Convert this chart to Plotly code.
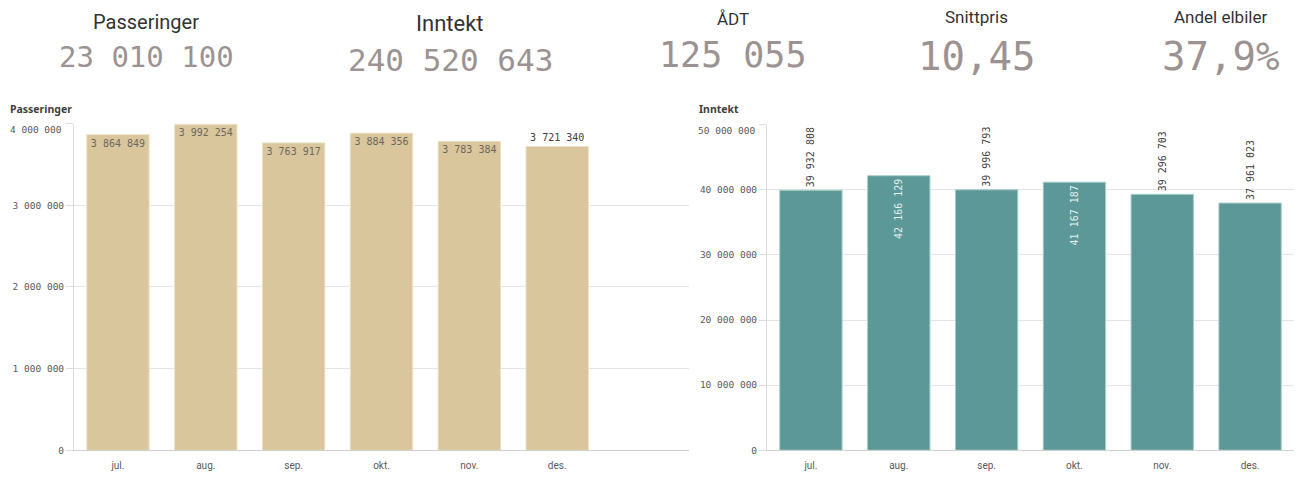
import plotly.graph_objects as go

# monthly data
months = ["jul.", "aug.", "sep.", "okt.", "nov.", "des."]
passeringer = [3864849, 3992254, 3763917, 3884356, 3783384, 3721340]
inntekt = [39932808, 42166129, 39996793, 41167187, 39296703, 37961023]

# label placement as in the original dashboard
pass_textpos = ["inside", "inside", "inside", "inside", "inside", "outside"]
innt_textpos = ["outside", "inside", "outside", "inside", "outside", "outside"]

# y axis ticks
pass_ticks = [0, 1000000, 2000000, 3000000, 4000000]
innt_ticks = [0, 10000000, 20000000, 30000000, 40000000, 50000000]

# KPI row
kpi_titles = ["Passeringer", "Inntekt", "ÅDT", "Snittpris", "Andel elbiler"]
kpi_values = [
    f"{sum(passeringer):,}".replace(",", " "),
    f"{sum(inntekt):,}".replace(",", " "),
    "125 055",
    "10,45",
    "37,9%",
]

def fmt(v):
    return f"{v:,}".replace(",", " ")

W, H = 1304, 477

def py(px):
    return 1 - px / H

def pxx(px):
    return px / W

TAN = "#d9c69c"
TEAL = "#5c9897"
MONO = "DejaVu Sans Mono"
SANS = "Roboto"

fig = go.Figure()

fig.add_trace(go.Bar(
    x=months, y=passeringer, xaxis="x", yaxis="y",
    marker=dict(color=TAN, line=dict(color="#ece0c4", width=1)),
    texttemplate="%{y:,d}", textposition=pass_textpos, insidetextanchor="end",
    textangle=0,
    insidetextfont=dict(family=MONO, size=10, color="#6e665c"),
    outsidetextfont=dict(family=MONO, size=10, color="#404040"),
    cliponaxis=False, showlegend=False, hoverinfo="x+y",
))

fig.add_trace(go.Bar(
    x=months, y=inntekt, xaxis="x2", yaxis="y2",
    marker=dict(color=TEAL, line=dict(color="#a9cdca", width=1)),
    texttemplate="%{y:,d}", textposition=innt_textpos, insidetextanchor="end",
    textangle=-90,
    insidetextfont=dict(family=MONO, size=10, color="#e6f1f0"),
    outsidetextfont=dict(family=MONO, size=10, color="#404040"),
    cliponaxis=False, showlegend=False, hoverinfo="x+y",
))

axis_common = dict(
    showgrid=False, ticks="", showline=True, linecolor="#cfcfcf", linewidth=1,
    tickfont=dict(family=SANS, size=10, color="#595959"), type="category",
    ticklabelstandoff=6, fixedrange=True,
)
yaxis_common = dict(
    showgrid=True, gridcolor="#e3e3e3", gridwidth=1, zeroline=False,
    showline=True, linecolor="#dcdcdc", ticks="outside", ticklen=7,
    tickcolor="#dcdcdc",
    tickfont=dict(family=MONO, size=9.5, color="#595959"), fixedrange=True,
)

fig.update_layout(
    width=W, height=H,
    margin=dict(l=0, r=0, t=0, b=0),
    paper_bgcolor="white", plot_bgcolor="white",
    separators=", ",
    bargap=0.29,
    xaxis=dict(axis_common, domain=[pxx(74), pxx(689)], range=[-0.5, 6.5], anchor="y"),
    yaxis=dict(yaxis_common, domain=[py(455), py(125)], range=[0, pass_ticks[-1]],
               tickvals=pass_ticks, ticktext=[fmt(v) for v in pass_ticks[:-1]] + [""], anchor="x"),
    xaxis2=dict(axis_common, domain=[pxx(767), pxx(1294)], range=[-0.5, 5.5], anchor="y2"),
    yaxis2=dict(yaxis_common, domain=[py(455), py(126)], range=[0, innt_ticks[-1]],
                tickvals=innt_ticks, ticktext=[fmt(v) for v in innt_ticks[:-1]] + [""], anchor="x2"),
)

# the top tick label sits a bit below its gridline, drawn separately
fig.add_annotation(text=fmt(pass_ticks[-1]), x=pxx(64), y=pass_ticks[-1], xref="paper", yref="y",
                   xanchor="right", yanchor="middle", yshift=-6, showarrow=False,
                   font=dict(family=MONO, size=9.5, color="#595959"))
fig.add_annotation(text=fmt(innt_ticks[-1]), x=pxx(757), y=innt_ticks[-1], xref="paper", yref="y2",
                   xanchor="right", yanchor="middle", yshift=-6, showarrow=False,
                   font=dict(family=MONO, size=9.5, color="#595959"))

# chart titles
fig.add_annotation(text="<b>Passeringer</b>", x=pxx(8), y=py(110), xref="paper", yref="paper",
                   xanchor="left", yanchor="middle", showarrow=False,
                   font=dict(family="Noto Sans", size=10.5, color="#404040"))
fig.add_annotation(text="<b>Inntekt</b>", x=pxx(697), y=py(110), xref="paper", yref="paper",
                   xanchor="left", yanchor="middle", showarrow=False,
                   font=dict(family="Noto Sans", size=10.5, color="#404040"))

# KPI row
kpi_x = [146, 450, 733, 977, 1220]
title_y = [22, 24, 19, 17, 17]
title_size = [20, 22, 17, 17, 17]
value_y = [58, 61, 56, 57, 57]
value_size = [29, 31, 35, 39, 39]
for t, v, x, ty, ts, vy, vs in zip(kpi_titles, kpi_values, kpi_x, title_y, title_size, value_y, value_size):
    fig.add_annotation(text=t, x=pxx(x), y=py(ty), xref="paper", yref="paper",
                       xanchor="center", yanchor="middle", showarrow=False,
                       font=dict(family=SANS, size=ts, color="#333333"))
    fig.add_annotation(text=v, x=pxx(x), y=py(vy), xref="paper", yref="paper",
                       xanchor="center", yanchor="middle", showarrow=False,
                       font=dict(family=MONO, size=vs, color="#9c9291"))

# drop the default 8px page margin so the figure fills the window exactly
fig.write_html("out.html", config={"displayModeBar": False},
               post_script="document.body.style.margin='0';")
